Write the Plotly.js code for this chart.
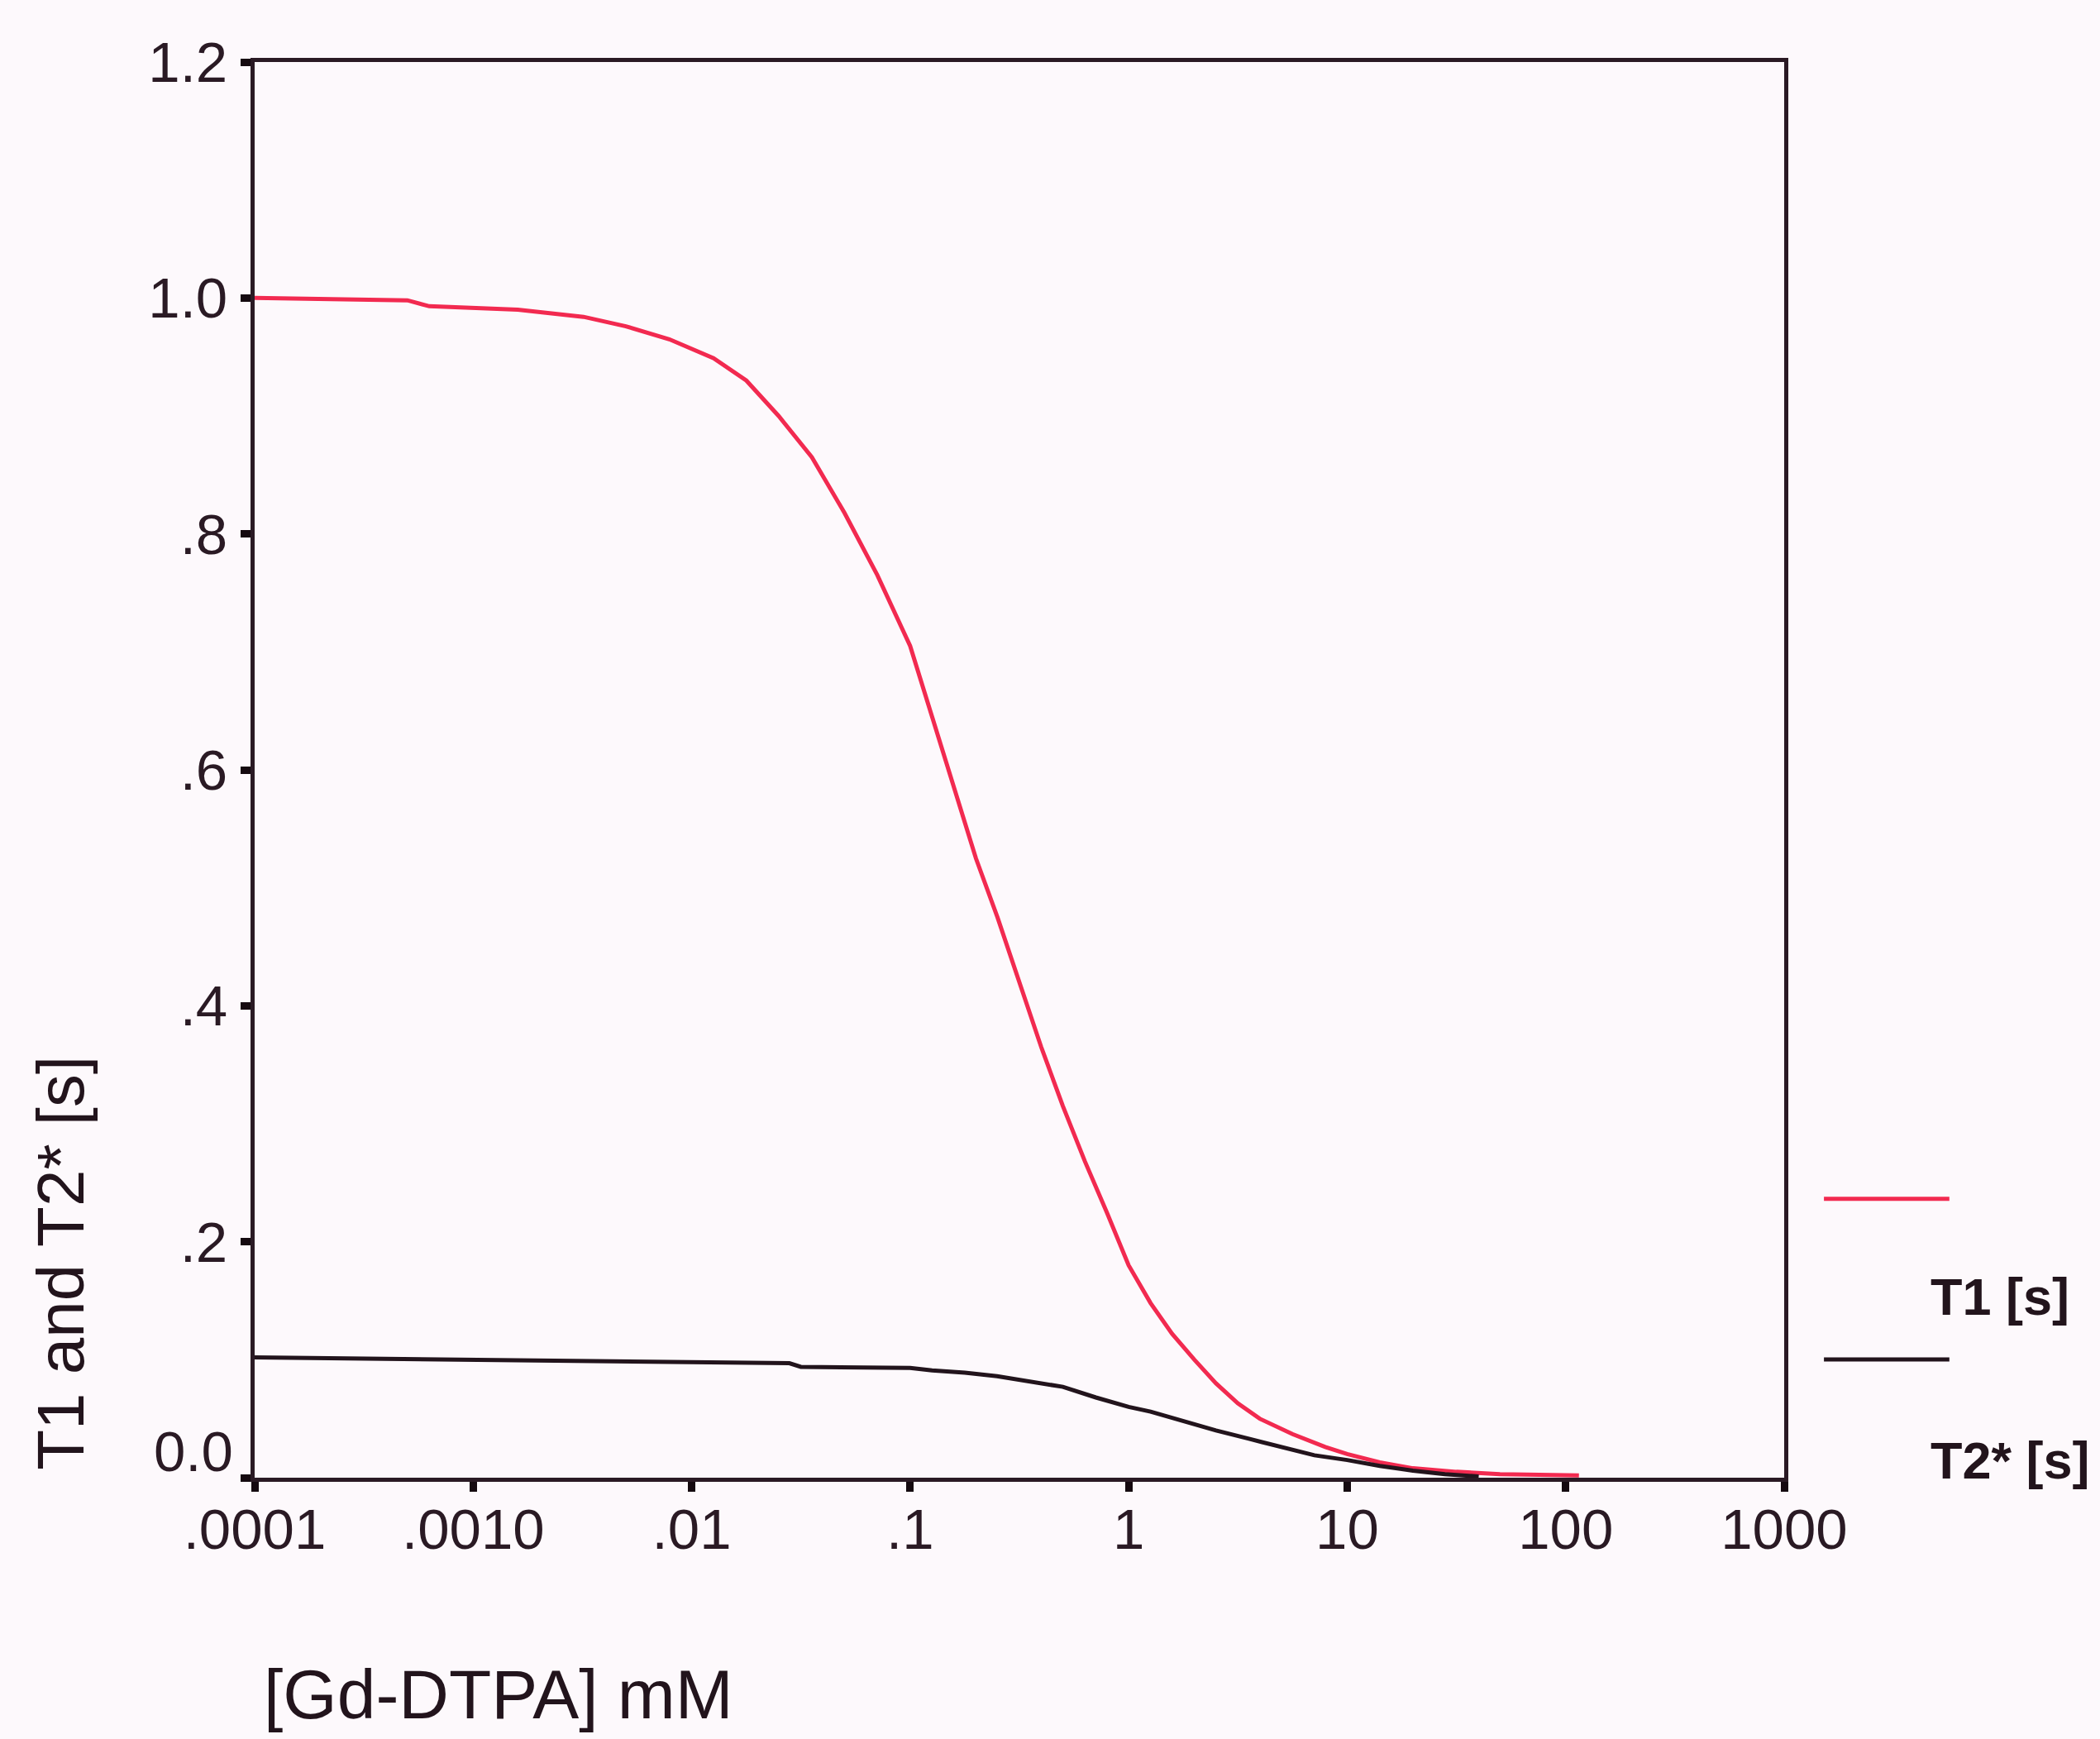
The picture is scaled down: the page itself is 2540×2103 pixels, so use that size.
<!DOCTYPE html>
<html>
<head>
<meta charset="utf-8">
<script src="https://cdn.plot.ly/plotly-3.0.1.min.js"></script>
<style>
  html, body { margin: 0; padding: 0; background: #fdf9fc; }
  #chart { width: 2540px; height: 2103px; }
</style>
</head>
<body>
<div id="chart"></div>
<script>
// Gd-DTPA concentration (mM) and relaxation times (s)
const t1Conc = [0.0001, 0.0005, 0.00063, 0.0016, 0.0032, 0.005, 0.0079, 0.0126, 0.0178, 0.025,
                0.0355, 0.05, 0.0708, 0.1, 0.126, 0.158, 0.2, 0.251, 0.316, 0.398,
                0.5, 0.631, 0.794, 1, 1.26, 1.58, 2.0, 2.51, 3.16, 3.98,
                5.62, 7.94, 10, 14.1, 20, 31.6, 50, 115];
const t1Values = [1.000, 0.998, 0.993, 0.990, 0.984, 0.976, 0.965, 0.949, 0.930, 0.900,
                  0.865, 0.818, 0.765, 0.705, 0.645, 0.585, 0.525, 0.475, 0.420, 0.365,
                  0.315, 0.268, 0.225, 0.180, 0.148, 0.122, 0.100, 0.080, 0.063, 0.050,
                  0.037, 0.026, 0.020, 0.013, 0.008, 0.005, 0.003, 0.002];

const t2Conc = [0.0001, 0.001, 0.01, 0.028, 0.0316, 0.1, 0.126, 0.178, 0.25, 0.355,
                0.5, 0.708, 1, 1.26, 1.78, 2.51, 3.55, 5.0, 7.08, 10,
                14.1, 20, 28, 40];
const t2Values = [0.102, 0.100, 0.098, 0.097, 0.094, 0.093, 0.091, 0.089, 0.086, 0.081,
                  0.077, 0.068, 0.060, 0.056, 0.048, 0.040, 0.033, 0.026, 0.019, 0.015,
                  0.010, 0.006, 0.003, 0.001];

const xTickVals = [0.0001, 0.001, 0.01, 0.1, 1, 10, 100, 1000];
const xTickText = [".0001", ".0010", ".01", ".1", "1", "10", "100", "1000"];
const yTickVals = [0, 0.2, 0.4, 0.6, 0.8, 1.0, 1.2];
const yTickText = ["0.0", ".2", ".4", ".6", ".8", "1.0", "1.2"];

const seriesNames = ["T1 [s]", "T2* [s]"];
const xTitle = "[Gd-DTPA] mM";
const yTitle = "T1 and T2* [s]";

const RED = "#f22a50";
const DARK = "#22141c";
const AXIS = "#2a1a24";
const FONT = "Liberation Sans, Arial, Helvetica, sans-serif";

// the zero label sits a little above its tick in the original; drawn as an annotation
const yTickTextShown = yTickText.map((t, i) => (yTickVals[i] === 0 ? "" : t));

const traces = [
  { x: t1Conc, y: t1Values, type: "scatter", mode: "lines", name: seriesNames[0],
    line: { color: RED, width: 5 } },
  { x: t2Conc, y: t2Values, type: "scatter", mode: "lines", name: seriesNames[1],
    line: { color: DARK, width: 5 } }
];

const layout = {
  width: 2540, height: 2103,
  paper_bgcolor: "#fdf9fc", plot_bgcolor: "#fdf9fc",
  margin: { l: 308, r: 382, t: 75, b: 316 },
  showlegend: false,
  font: { family: FONT, color: AXIS, size: 68 },
  xaxis: {
    type: "log", range: [-4, 3],
    tickmode: "array", tickvals: xTickVals, ticktext: xTickText,
    showgrid: false, zeroline: false,
    showline: true, mirror: true, linecolor: AXIS, linewidth: 5,
    ticks: "outside", ticklen: 12, tickwidth: 9, tickcolor: "#150a10",
    tickfont: { family: FONT, size: 69, color: AXIS },
    ticklabelstandoff: -14
  },
  yaxis: {
    range: [0, 1.2],
    tickmode: "array", tickvals: yTickVals, ticktext: yTickTextShown,
    showgrid: false, zeroline: false,
    showline: true, mirror: true, linecolor: AXIS, linewidth: 5,
    ticks: "outside", ticklen: 12, tickwidth: 9, tickcolor: "#150a10",
    tickfont: { family: FONT, size: 69, color: AXIS },
    ticklabelstandoff: 2
  },
  shapes: [
    { type: "line", xref: "paper", yref: "paper", x0: 1.026, x1: 1.108, y0: 0.197, y1: 0.197,
      line: { color: RED, width: 5 } },
    { type: "line", xref: "paper", yref: "paper", x0: 1.026, x1: 1.108, y0: 0.0835, y1: 0.0835,
      line: { color: DARK, width: 5 } }
  ],
  annotations: [
    { text: yTickText[0], xref: "paper", yref: "y", x: 0, y: yTickVals[0],
      xanchor: "right", yanchor: "middle", xshift: -24, yshift: 32, showarrow: false,
      font: { family: FONT, size: 69, color: AXIS } },
    { text: seriesNames[0], xref: "paper", yref: "paper", x: 1.0946, y: 0.128,
      xanchor: "left", yanchor: "middle", showarrow: false,
      font: { family: FONT, size: 63, color: DARK, weight: "bold" } },
    { text: seriesNames[1], xref: "paper", yref: "paper", x: 1.0946, y: 0.0123,
      xanchor: "left", yanchor: "middle", showarrow: false,
      font: { family: FONT, size: 63, color: DARK, weight: "bold" } },
    { text: xTitle, xref: "paper", yref: "paper", x: 0.005, y: -0.153,
      xanchor: "left", yanchor: "middle", showarrow: false,
      font: { family: FONT, size: 84, color: DARK } },
    { text: yTitle, xref: "paper", yref: "paper", x: -0.1265, y: 0.152,
      xanchor: "center", yanchor: "middle", showarrow: false, textangle: -90,
      font: { family: FONT, size: 80, color: DARK } }
  ]
};

Plotly.newPlot("chart", traces, layout, { displayModeBar: false, staticPlot: true });
</script>
</body>
</html>
